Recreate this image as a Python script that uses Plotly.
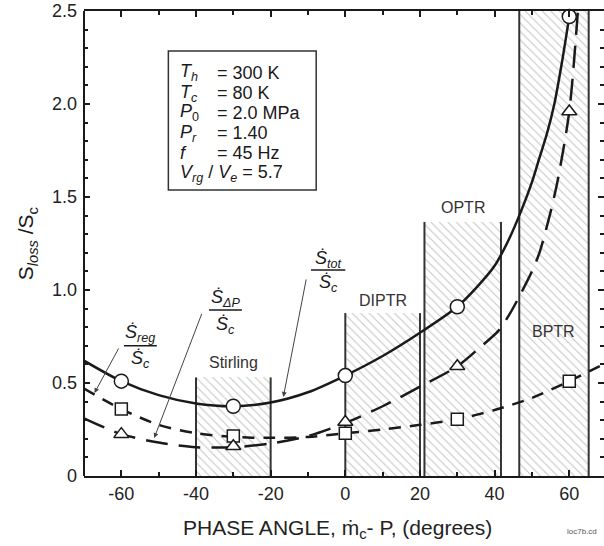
import plotly.graph_objects as go

# ---- data ----
tot_x = [-70, -60, -50, -40, -30, -20, -10, 0, 10, 20, 30, 35, 40, 44, 47, 50, 52, 54, 56, 58, 60]
tot_y = [0.62, 0.51, 0.435, 0.39, 0.375, 0.395, 0.45, 0.54, 0.645, 0.77, 0.91, 1.01, 1.13, 1.28, 1.42, 1.58, 1.71, 1.84, 2.00, 2.22, 2.47]

dp_x = [-70, -60, -50, -40, -30, -20, -10, 0, 10, 20, 30, 36, 41, 44, 47, 50, 52, 55, 57, 60, 62.3]
dp_y = [0.31, 0.225, 0.18, 0.155, 0.155, 0.175, 0.215, 0.285, 0.375, 0.48, 0.59, 0.69, 0.78, 0.87, 0.98, 1.10, 1.20, 1.42, 1.60, 1.96, 2.5]

reg_x = [-70, -60, -50, -40, -30, -20, -10, 0, 10, 20, 30, 40, 50, 60, 70]
reg_y = [0.47, 0.36, 0.275, 0.23, 0.21, 0.205, 0.21, 0.23, 0.25, 0.275, 0.305, 0.355, 0.42, 0.51, 0.61]

mark_x = [-60, -30, 0, 30, 60]
tot_mark = [0.51, 0.375, 0.54, 0.91, 2.47]
dp_mark = [0.225, 0.16, 0.29, 0.59, 1.96]
reg_mark = [0.36, 0.215, 0.23, 0.305, 0.51]

region_names = ["Stirling", "DIPTR", "OPTR", "BPTR"]
region_lo = [-40, 0, 21.2, 46.6]
region_hi = [-20, 20, 41.7, 65.2]
region_top = [0.53, 0.876, 1.366, 2.5]
region_label_y = [0.61, 0.945, 1.445, 0.775]

x_ticks = [-60, -40, -20, 0, 20, 40, 60]
x_ticktext = ["-60", "-40", "-20", "0", "20", "40", "60"]
y_ticks = [0, 0.5, 1.0, 1.5, 2.0, 2.5]
y_ticktext = ["0", "0.5", "1.0", "1.5", "2.0", "2.5"]

params = [
    ("<i>T<sub>h</sub></i>", "= 300 K"),
    ("<i>T<sub>c</sub></i>", "= 80 K"),
    ("<i>P</i><sub>0</sub>", "= 2.0 MPa"),
    ("<i>P<sub>r</sub></i>", "= 1.40"),
    ("<i>f</i>", "= 45 Hz"),
]
param_last = "<i>V<sub>rg</sub></i> / <i>V<sub>e</sub></i> = 5.7"

FONT = "Liberation Sans, Arial, sans-serif"
INK = "#1a1a1a"

fig = go.Figure()

# hatched regions
fig.add_trace(go.Bar(
    x=[(a + b) / 2 for a, b in zip(region_lo, region_hi)],
    y=region_top,
    width=[b - a for a, b in zip(region_lo, region_hi)],
    base=0,
    marker=dict(color="white", line=dict(width=0),
                pattern=dict(shape="\\", fgcolor="#8a8a8a", bgcolor="white",
                             size=6, solidity=0.18)),
    showlegend=False, hoverinfo="skip",
))

# region edges
ex, ey = [], []
for a, b, t in zip(region_lo, region_hi, region_top):
    ex += [a, a, None, b, b, None]
    ey += [0, t, None, 0, t, None]
fig.add_trace(go.Scatter(x=ex, y=ey, mode="lines",
                         line=dict(color="#333", width=2), showlegend=False, hoverinfo="skip"))

# curves
fig.add_trace(go.Scatter(x=reg_x, y=reg_y, mode="lines",
                         line=dict(color=INK, width=2.5, dash="12px,9px", shape="spline", smoothing=0.8),
                         showlegend=False))
fig.add_trace(go.Scatter(x=dp_x, y=dp_y, mode="lines",
                         line=dict(color=INK, width=2.5, dash="22px,11px", shape="spline", smoothing=0.8),
                         showlegend=False))
fig.add_trace(go.Scatter(x=tot_x, y=tot_y, mode="lines",
                         line=dict(color=INK, width=2.5, shape="spline", smoothing=0.8),
                         showlegend=False))

# markers
fig.add_trace(go.Scatter(x=mark_x, y=reg_mark, mode="markers",
                         marker=dict(symbol="square", size=12, color="white", line=dict(color=INK, width=1.5)),
                         showlegend=False))
fig.add_trace(go.Scatter(x=mark_x, y=dp_mark, mode="markers",
                         marker=dict(symbol="triangle-up", size=13, color="white", line=dict(color=INK, width=1.5)),
                         showlegend=False))
fig.add_trace(go.Scatter(x=mark_x, y=tot_mark, mode="markers",
                         marker=dict(symbol="circle", size=14, color="white", line=dict(color=INK, width=1.5)),
                         showlegend=False, cliponaxis=False))

annotations = []
shapes = []

# region labels
for name, a, b, ly in zip(region_names, region_lo, region_hi, region_label_y):
    annotations.append(dict(x=(a + b) / 2, y=ly, text=name, showarrow=False,
                            font=dict(size=16, color="#333", family=FONT)))

# parameter box
shapes.append(dict(type="rect", xref="x", yref="y", x0=-47.4, x1=-7.8, y0=1.538, y1=2.285,
                   line=dict(color="#333", width=1.5), fillcolor="white", layer="above"))
row_y = [2.167, 2.059, 1.952, 1.844, 1.737]
for (lab, val), yy in zip(params, row_y):
    annotations.append(dict(x=-44.7, y=yy, text=lab, showarrow=False, xanchor="left",
                            font=dict(size=18, color=INK, family=FONT)))
    annotations.append(dict(x=-35.0, y=yy, text=val, showarrow=False, xanchor="left",
                            font=dict(size=18, color=INK, family=FONT)))
annotations.append(dict(x=-44.7, y=1.629, text=param_last, showarrow=False, xanchor="left",
                        font=dict(size=18, color=INK, family=FONT)))

# fraction labels
fracs = [
    ("reg", -54.9, 0.765, 0.70, 0.625, 8.8),
    ("\u0394P", -32.1, 0.955, 0.892, 0.81, 8.8),
    ("tot", -4.6, 1.165, 1.108, 1.035, 9.2),
]
for sub, cx, ny, by, dy, w in fracs:
    annotations.append(dict(x=cx, y=ny, text="<i>\u1e60<sub>%s</sub></i>" % sub, showarrow=False,
                            font=dict(size=18, color=INK, family=FONT)))
    annotations.append(dict(x=cx, y=dy, text="<i>\u1e60<sub>c</sub></i>", showarrow=False,
                            font=dict(size=18, color=INK, family=FONT)))
    shapes.append(dict(type="line", xref="x", yref="y", x0=cx - w / 2, x1=cx + w / 2, y0=by, y1=by,
                       line=dict(color=INK, width=1.5)))

# arrows (tail -> head)
arrows = [
    (-60.5, 0.694, -67.2, 0.446),
    (-38.3, 0.880, -51.2, 0.204),
    (-10.4, 1.065, -16.6, 0.425),
]
for tx, ty, hx, hy in arrows:
    annotations.append(dict(x=hx, y=hy, ax=tx, ay=ty, axref="x", ayref="y", text="",
                            showarrow=True, arrowhead=2, arrowsize=1, arrowwidth=1,
                            arrowcolor="#444"))

# axis titles
annotations.append(dict(xref="paper", yref="paper", x=-0.11, y=0.50, xanchor="center", yanchor="middle",
                        text="S<sub><i>loss</i></sub> /S<sub>c</sub>", textangle=-90,
                        showarrow=False, font=dict(size=21, color=INK, family=FONT)))
annotations.append(dict(xref="paper", yref="paper", x=0.488, y=-0.114, xanchor="center", yanchor="middle",
                        text="PHASE ANGLE, \u1e41<sub>c</sub>- P, (degrees)",
                        showarrow=False, font=dict(size=21, color="#222", family=FONT)))
annotations.append(dict(xref="paper", yref="paper", x=0.925, y=-0.12, xanchor="left", yanchor="middle",
                        text="loc7b.cd", showarrow=False,
                        font=dict(size=8, color="#555", family=FONT)))

# left axis line
shapes.append(dict(type="line", xref="paper", yref="paper", x0=0, x1=0, y0=0, y1=1,
                   line=dict(color=INK, width=2)))

fig.update_layout(
    width=604, height=546,
    margin=dict(l=84, r=0, t=11, b=70),
    paper_bgcolor="white", plot_bgcolor="white",
    showlegend=False,
    bargap=0,
    font=dict(family=FONT, color=INK),
    annotations=annotations,
    shapes=shapes,
    xaxis=dict(range=[-70, 69.3], tickvals=x_ticks, ticktext=x_ticktext, ticks="inside", ticklen=6,
               tickwidth=1.5, tickcolor=INK, showline=True, linewidth=2, linecolor=INK, mirror="ticks",
               showgrid=False, zeroline=False, automargin=False,
               tickfont=dict(size=18, color="#222", family=FONT),
               minor=dict(dtick=10, tick0=0, ticks="inside", ticklen=4, tickwidth=1.5, tickcolor=INK)),
    yaxis=dict(range=[0, 2.5], tickvals=y_ticks, ticktext=y_ticktext, ticks="inside", ticklen=6,
               tickwidth=1.5, tickcolor=INK, showline=False, mirror="ticks",
               showgrid=False, zeroline=False, ticklabelstandoff=6, automargin=False,
               tickfont=dict(size=18, color="#222", family=FONT),
               minor=dict(dtick=0.1, tick0=0, ticks="inside", ticklen=4, tickwidth=1.5, tickcolor=INK)),
)

# remove the browser's default 8px body margin so the figure fills the window
fig.write_html("out.html", config={"displayModeBar": False},
               post_script="document.body.style.margin='0';")
